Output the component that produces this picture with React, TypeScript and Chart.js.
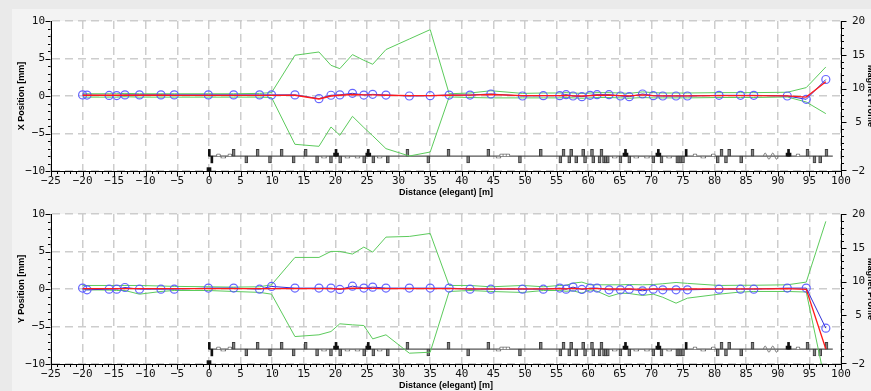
import React, { useEffect, useRef } from 'react';
import { Chart, registerables } from 'chart.js';

Chart.register(...registerables);

// ---------- BPM positions (m) ----------
const S_BPM = [-20.0, -19.3, -15.8, -14.6, -13.3, -11.0, -7.6, -5.5, -0.1, 3.9, 8.0, 9.9, 13.6, 17.4, 19.3, 20.7, 22.7, 24.5, 25.9, 28.0, 31.7, 35.0, 38.0, 41.3, 44.6, 49.6, 52.9, 55.5, 56.5, 57.6, 59.0, 60.3, 61.4, 63.3, 65.1, 66.5, 68.6, 70.3, 71.8, 73.9, 75.7, 80.7, 84.1, 86.2, 91.5, 94.5, 97.6];

// ---------- X plane (mm) ----------
const X_MEAS = [0.15, 0.12, 0.08, 0.06, 0.15, 0.15, 0.15, 0.15, 0.15, 0.15, 0.15, 0.15, 0.15, -0.35, 0.1, 0.15, 0.36, 0.13, 0.22, 0.13, 0.0, 0.04, 0.13, 0.13, 0.27, 0.0, 0.04, 0.04, 0.18, 0.0, -0.09, 0.09, 0.18, 0.18, 0.0, -0.09, 0.27, 0.04, 0.0, 0.0, 0.0, 0.09, 0.09, 0.09, 0.0, -0.44, 2.2];
const X_MODEL = [0.1, 0.1, 0.1, 0.1, 0.1, 0.1, 0.1, 0.08, 0.08, 0.08, 0.08, 0.08, 0.1, -0.4, 0.0, 0.1, 0.2, 0.15, 0.15, 0.1, 0.05, 0.05, 0.1, 0.12, 0.2, 0.05, 0.05, 0.05, 0.08, 0.02, 0.0, 0.05, 0.1, 0.12, 0.05, 0.02, 0.15, 0.05, 0.02, 0.02, 0.02, 0.05, 0.05, 0.05, 0.02, -0.15, 1.9];
const X_ENV_UP = [0.3, 0.3, 0.3, 0.3, 0.35, 0.3, 0.3, 0.3, 0.3, 0.3, 0.35, 0.45, 5.43, 5.87, 4.09, 3.65, 5.52, 4.76, 4.23, 6.19, 7.6, 8.85, 0.3, 0.4, 0.7, 0.35, 0.4, 0.4, 0.45, 0.4, 0.35, 0.4, 0.45, 0.45, 0.4, 0.35, 0.55, 0.45, 0.4, 0.4, 0.4, 0.45, 0.45, 0.45, 0.5, 1.12, 3.87];
const X_ENV_DN = [-0.15, -0.15, -0.15, -0.15, -0.1, -0.15, -0.15, -0.15, -0.15, -0.15, -0.15, -0.2, -6.44, -6.71, -4.13, -5.24, -2.71, -4.2, -5.3, -7.02, -8.0, -7.47, -0.13, -0.2, -0.25, -0.25, -0.25, -0.25, -0.2, -0.25, -0.3, -0.25, -0.2, -0.2, -0.25, -0.3, -0.2, -0.25, -0.25, -0.25, -0.25, -0.2, -0.2, -0.2, -0.13, -0.8, -2.35];

// ---------- Y plane (mm) ----------
const Y_MEAS = [0.12, -0.11, -0.02, -0.02, 0.2, -0.02, -0.02, -0.02, 0.12, 0.12, -0.02, 0.34, 0.12, 0.12, 0.12, -0.06, 0.38, 0.12, 0.25, 0.12, 0.12, 0.12, 0.12, -0.02, -0.02, -0.02, -0.02, 0.12, -0.02, 0.25, -0.06, 0.12, 0.12, -0.11, -0.11, -0.02, -0.24, -0.02, -0.11, -0.11, -0.11, -0.02, -0.02, -0.02, 0.12, 0.12, -5.22];
const Y_MODEL = [0.05, 0.05, 0.05, 0.05, 0.05, 0.05, 0.05, 0.05, 0.05, 0.05, 0.05, 0.05, 0.05, 0.05, 0.05, 0.0, 0.1, 0.08, 0.08, 0.05, 0.05, 0.05, 0.05, 0.03, 0.03, 0.03, 0.03, 0.05, 0.03, 0.08, 0.03, 0.05, 0.05, 0.0, 0.0, 0.02, -0.05, 0.02, 0.0, 0.0, 0.0, 0.02, 0.02, 0.02, 0.05, -0.05, -8.0];
const Y_ENV_UP = [0.47, 0.47, 0.47, 0.47, 0.47, 0.47, 0.4, 0.35, 0.3, 0.25, 0.3, 0.56, 4.21, 4.21, 5.01, 5.01, 4.66, 5.59, 4.92, 6.92, 7.01, 7.41, 0.47, 0.47, 0.29, 0.47, 0.3, 0.47, 0.5, 0.78, 0.92, 0.56, 0.56, 0.56, 0.56, 0.6, 0.56, 0.6, 0.7, 0.87, 0.75, 0.47, 0.5, 0.5, 0.56, 0.92, 9.02];
const Y_ENV_DN = [-0.1, -0.1, -0.15, -0.2, -0.2, -0.69, -0.33, -0.2, -0.2, -0.33, -0.45, -0.69, -6.34, -6.11, -5.67, -4.64, -4.78, -4.87, -6.65, -6.11, -8.56, -8.43, -0.33, -0.2, -0.33, -0.46, -0.2, -0.2, -0.3, -0.24, -0.55, -0.11, -0.3, -1.0, -0.55, -0.6, -0.86, -0.69, -1.1, -1.89, -1.22, -0.69, -0.4, -0.33, -0.33, -0.4, -12.8];

// ---------- Magnet profile (right axis) ----------
const LINE_START = 0.0;
const LINE_END = 98.7;
const QUAD_S = [3.9, 5.9, 7.7, 9.65, 11.5, 13.4, 15.3, 17.1, 19.3, 20.75, 24.55, 26.0, 28.3, 31.4, 34.7, 37.9, 41.0, 44.2, 49.2, 52.5, 55.6, 56.1, 57.0, 57.3, 58.1, 59.2, 59.5, 60.6, 60.8, 61.8, 62.1, 62.5, 62.8, 63.1, 65.1, 66.5, 70.3, 71.6, 74.1, 74.4, 74.7, 75.0, 80.5, 81.1, 81.8, 82.3, 84.2, 86.0, 94.7, 95.8, 96.7, 97.7];
const QUAD_K = [1, -1, 1, -1, 1, -1, 1, -1, -1, -1, -1, -1, -1, 1, -1, 1, -1, 1, -1, 1, -1, 1, -1, 1, -1, 1, -1, 1, -1, -1, 1, -1, -1, -1, -1, -1, -1, -1, -1, -1, -1, -1, -1, 1, -1, 1, -1, 1, 1, -1, -1, 1];
const CORR_S = [0.05, 0.45, 75.5];
const CORR_K = [1, -1, 1];
const SEXT_S = [20.1, 25.2, 65.9, 71.1, 91.7];
const BEND_S = [2.25, 18.2, 21.9, 23.5, 27.0, 45.8, 64.2, 67.6, 69.3, 72.8, 78.2];
const KICK_S = [1.5, 3.3, 46.3, 46.8, 47.3, 76.9, 79.8, 93.2];
const UND_S = [87.7, 88.0, 88.3, 88.6, 88.9, 89.2, 89.5, 89.8, 90.1];
const UND_V = [0, 0.45, 0, -0.45, 0, 0.45, 0, -0.45, 0];
const MARK_S = [0.0];

const MINUS = '\u2212';
const tickFont = { family: "'DejaVu Sans Mono', monospace", size: 11 };
const titleFont = { family: "'Liberation Sans', Arial, sans-serif", size: 9, weight: 'bold' as const };

const plotPlugin = {
  id: 'plotDecor',
  beforeDraw(chart: any) {
    const { ctx, chartArea } = chart;
    const { left, top, right, bottom } = chartArea;
    ctx.save();
    ctx.fillStyle = '#ffffff';
    ctx.fillRect(left, top, right - left, bottom - top);
    ctx.restore();
  },
  afterDraw(chart: any) {
    const { ctx } = chart;
    const xs = chart.scales.x;
    const ys = chart.scales.y;
    const y2 = chart.scales.y2;
    ctx.save();
    ctx.strokeStyle = '#000';
    ctx.lineWidth = 1;
    ctx.beginPath();
    const axisY = Math.round(xs.top) + 0.5;
    for (let v = -25; v <= 100; v += 1) {
      const px = Math.round(xs.getPixelForValue(v)) + 0.5;
      const len = v % 5 === 0 ? 5 : 2.5;
      ctx.moveTo(px, axisY);
      ctx.lineTo(px, axisY + len);
    }
    const axL = Math.round(ys.right) - 0.5;
    for (let v = -10; v <= 10; v += 1) {
      const py = Math.round(ys.getPixelForValue(v)) + 0.5;
      const len = v % 5 === 0 ? 5 : 2.5;
      ctx.moveTo(axL, py);
      ctx.lineTo(axL - len, py);
    }
    const axR = Math.round(y2.left) + 0.5;
    for (let v = -2; v <= 20; v += 1) {
      const py = Math.round(y2.getPixelForValue(v)) + 0.5;
      const len = v % 5 === 0 && v > 0 ? 5 : 2.5;
      ctx.moveTo(axR, py);
      ctx.lineTo(axR + len, py);
    }
    const pb = Math.round(y2.getPixelForValue(-2.2)) - 0.5;
    ctx.moveTo(axR, pb);
    ctx.lineTo(axR + 5, pb);
    ctx.stroke();
    ctx.restore();
  },
};

function makeConfig(yTitle: string, meas: number[], model: number[], up: number[], dn: number[]) {
  const pts = (ys: number[]) => S_BPM.map((s, i) => ({ x: s, y: ys[i] }));
  const datasets: any[] = [
    { label: 'model', data: pts(model), borderColor: '#ff1a1a', borderWidth: 1.3, pointRadius: 0, yAxisID: 'y' },
    {
      label: 'measured', data: pts(meas), borderColor: 'rgb(50,50,215)', borderWidth: 1, pointRadius: 4,
      pointBorderColor: 'rgba(85,85,255,0.9)', pointBackgroundColor: 'rgba(0,0,0,0)', pointBorderWidth: 1.2, yAxisID: 'y',
    },
    { label: 'env+', data: pts(up), borderColor: '#5ccb5c', borderWidth: 1, pointRadius: 0, yAxisID: 'y' },
    { label: 'env-', data: pts(dn), borderColor: '#5ccb5c', borderWidth: 1, pointRadius: 0, yAxisID: 'y' },
    {
      type: 'bar', label: 'sext-core', data: SEXT_S.map((s) => ({ x: s, y: [0, 1.0] })), yAxisID: 'y2',
      backgroundColor: '#111', borderWidth: 0, barThickness: 2, grouped: false,
    },
    {
      type: 'bar', label: 'sext-body', data: SEXT_S.map((s) => ({ x: s, y: [0, 0.45] })), yAxisID: 'y2',
      backgroundColor: '#111', borderWidth: 0, barThickness: 5, grouped: false,
    },
    {
      type: 'bar', label: 'corr', data: CORR_S.map((s, i) => ({ x: s, y: [0, CORR_K[i]] })), yAxisID: 'y2',
      backgroundColor: '#111', borderWidth: 0, barThickness: 2, grouped: false,
    },
    {
      type: 'bar', label: 'quad', data: QUAD_S.map((s, i) => ({ x: s, y: [0, QUAD_K[i]] })), yAxisID: 'y2',
      backgroundColor: '#808080', borderColor: '#3c3c3c', borderWidth: 1, borderSkipped: false, barThickness: 3, grouped: false,
    },
    {
      type: 'bar', label: 'bend', data: BEND_S.map((s) => ({ x: s, y: [-0.3, 0] })), yAxisID: 'y2',
      backgroundColor: '#ffffff', borderColor: '#6a6a6a', borderWidth: 1, borderSkipped: false, barThickness: 5, grouped: false,
    },
    {
      type: 'bar', label: 'kick', data: KICK_S.map((s) => ({ x: s, y: [0, 0.35] })), yAxisID: 'y2',
      backgroundColor: '#ffffff', borderColor: '#6a6a6a', borderWidth: 1, borderSkipped: 'start',
      borderRadius: { topLeft: 2, topRight: 2, bottomLeft: 0, bottomRight: 0 }, barThickness: 4, grouped: false,
    },
    {
      type: 'bar', label: 'marker', data: MARK_S.map((s) => ({ x: s, y: [-2.2, -1.7] })), yAxisID: 'y2',
      backgroundColor: '#111', borderWidth: 0, barThickness: 4, grouped: false,
    },
    {
      label: 'undulator', data: UND_S.map((s, i) => ({ x: s, y: UND_V[i] })), yAxisID: 'y2',
      borderColor: '#777', borderWidth: 1, pointRadius: 0, tension: 0.45,
    },
    {
      label: 'beamline', data: [{ x: LINE_START, y: 0 }, { x: LINE_END, y: 0 }], yAxisID: 'y2',
      borderColor: '#555', borderWidth: 1.2, pointRadius: 0,
    },
  ];

  const grid = { color: 'rgba(200,200,200,0.9)', lineWidth: 1.5, drawTicks: false, offset: false };
  const fmt = (v: any) => String(v).replace('-', MINUS);

  return {
    type: 'line' as const,
    data: { datasets },
    plugins: [plotPlugin],
    options: {
      animation: false,
      responsive: false,
      devicePixelRatio: 1,
      events: [],
      layout: { padding: { left: 16, top: 21, right: 0, bottom: 0 } },
      plugins: { legend: { display: false }, tooltip: { enabled: false } },
      scales: {
        x: {
          type: 'linear', position: 'bottom', min: -25, max: 100, offset: false,
          ticks: { stepSize: 5, autoSkip: false, maxRotation: 0, padding: 4, font: tickFont, color: '#111', callback: fmt },
          grid,
          border: { display: true, color: '#000', width: 1, dash: [8, 5] },
          title: { display: true, text: 'Distance (elegant) [m]', font: titleFont, color: '#000', padding: { top: 0, bottom: 0 } },
          afterFit: (s: any) => { s.height = 27; },
        },
        y: {
          type: 'linear', position: 'left', min: -10, max: 10,
          ticks: { stepSize: 5, padding: 6, font: tickFont, color: '#111', callback: fmt },
          grid,
          border: { display: true, color: '#000', width: 1, dash: [8, 5] },
          title: { display: true, text: yTitle, font: titleFont, color: '#000', padding: { top: 0, bottom: 0 } },
          afterFit: (s: any) => { s.width = 35; },
        },
        y2: {
          type: 'linear', position: 'right', min: -2.2, max: 20,
          afterBuildTicks: (s: any) => { s.ticks = [-2.2, 5, 10, 15, 20].map((v) => ({ value: v })); },
          ticks: {
            padding: 11, crossAlign: 'center', font: tickFont, color: '#111',
            callback: (v: any) => (Math.abs(v + 2.2) < 1e-6 ? MINUS + '2' : String(v)),
          },
          grid: { drawOnChartArea: false, drawTicks: false },
          border: { display: true, color: '#000', width: 1 },
          title: { display: true, text: 'Magnet Profile', font: titleFont, color: '#000', padding: { top: 0, bottom: 0 } },
          afterFit: (s: any) => { s.width = 35; },
        },
      },
    },
  };
}

export default function App() {
  const c1 = useRef<HTMLCanvasElement | null>(null);
  const c2 = useRef<HTMLCanvasElement | null>(null);

  useEffect(() => {
    const a = new Chart(c1.current as HTMLCanvasElement, makeConfig('X Position [mm]', X_MEAS, X_MODEL, X_ENV_UP, X_ENV_DN) as any);
    const b = new Chart(c2.current as HTMLCanvasElement, makeConfig('Y Position [mm]', Y_MEAS, Y_MODEL, Y_ENV_UP, Y_ENV_DN) as any);
    return () => {
      a.destroy();
      b.destroy();
    };
  }, []);

  return (
    <div style={{ position: 'fixed', left: 0, top: 0, width: 871, height: 391, overflow: 'hidden', background: '#eaeaea' }}>
      <div style={{ position: 'absolute', left: 12, top: 9, right: 0, bottom: 0, background: '#f3f3f3' }} />
      <canvas ref={c1} width={876} height={198} style={{ position: 'absolute', left: 0, top: 0 }} />
      <canvas ref={c2} width={876} height={198} style={{ position: 'absolute', left: 0, top: 193 }} />
    </div>
  );
}
